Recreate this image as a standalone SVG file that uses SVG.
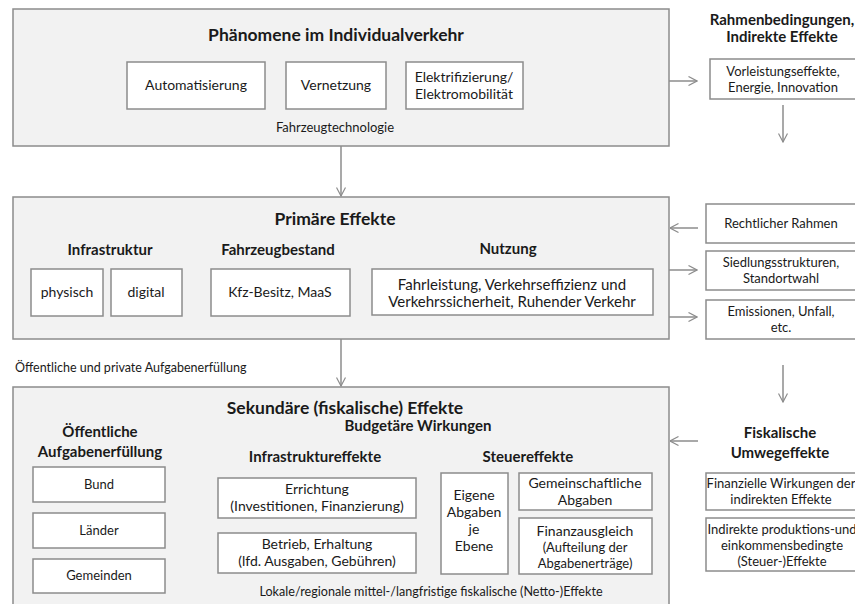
<svg xmlns="http://www.w3.org/2000/svg" width="855" height="604" viewBox="0 0 855 604">
<defs>
<marker id="ah" viewBox="0 0 10 10" refX="9.5" refY="5" markerWidth="10" markerHeight="10" markerUnits="userSpaceOnUse" orient="auto">
<path d="M1,0.5 L9.5,5 L1,9.5" fill="none" stroke="#8c8c8c" stroke-width="1.2"/>
</marker>
</defs>
<style>
text{font-family:Lato,"Open Sans","Liberation Sans",sans-serif;fill:#1a1a1a;text-anchor:middle}
.big{fill:#f2f2f2;stroke:#8c8c8c;stroke-width:1.5}
.box{fill:#fff;stroke:#8c8c8c;stroke-width:1.5}
.t{font-size:14px}
.n{font-size:15px}
.s{font-size:13px}
.h1{font-size:17.5px;font-weight:bold}
.h2{font-size:15px;font-weight:bold}
.c line{stroke:#8c8c8c;stroke-width:1.5;marker-end:url(#ah)}
</style>
<rect width="855" height="604" fill="#fff"/>

<g id="phaenomene">
<rect class="big" x="13" y="9" width="656" height="137"/>
<text class="h1" x="336" y="41">Phänomene im Individualverkehr</text>
<text class="s" x="335" y="132">Fahrzeugtechnologie</text>
</g>
<g id="automatisierung"><rect class="box" x="127" y="62" width="138" height="47"/><text class="t" x="196" y="90">Automatisierung</text></g>
<g id="vernetzung"><rect class="box" x="286" y="62" width="100" height="47"/><text class="t" x="336" y="90">Vernetzung</text></g>
<g id="elektrifizierung"><rect class="box" x="406" y="62" width="117" height="47"/><text class="t" x="464" y="82">Elektrifizierung/</text><text class="t" x="464" y="99">Elektromobilität</text></g>

<g id="rahmen">
<text class="h2" x="782" y="25">Rahmenbedingungen,</text>
<text class="h2" x="782" y="42">Indirekte Effekte</text>
</g>
<g id="vorleistung"><rect class="box" x="710" y="59" width="147" height="40"/><text class="s" x="783" y="76">Vorleistungseffekte,</text><text class="s" x="783" y="92">Energie, Innovation</text></g>

<g id="primaer">
<rect class="big" x="13" y="197" width="656" height="142"/>
<text class="h1" x="335" y="225">Primäre Effekte</text>
<text class="h2" x="110" y="255">Infrastruktur</text>
<text class="h2" x="278" y="255">Fahrzeugbestand</text>
<text class="h2" x="508" y="254">Nutzung</text>
</g>
<g id="physisch"><rect class="box" x="31" y="269" width="72" height="47"/><text class="t" x="67" y="297">physisch</text></g>
<g id="digital"><rect class="box" x="111" y="269" width="71" height="47"/><text class="t" x="146" y="297">digital</text></g>
<g id="kfz"><rect class="box" x="211" y="269" width="139" height="47"/><text class="t" x="280" y="297">Kfz-Besitz, MaaS</text></g>
<g id="nutzung"><rect class="box" x="372" y="269" width="281" height="46"/><text class="n" x="512" y="290">Fahrleistung, Verkehrseffizienz und</text><text class="n" x="512" y="307">Verkehrssicherheit, Ruhender Verkehr</text></g>

<g id="rechtlich"><rect class="box" x="706" y="204" width="151" height="39"/><text class="s" x="781" y="228">Rechtlicher Rahmen</text></g>
<g id="siedlung"><rect class="box" x="706" y="251" width="151" height="39"/><text class="s" x="781" y="267">Siedlungsstrukturen,</text><text class="s" x="781" y="283">Standortwahl</text></g>
<g id="emissionen"><rect class="box" x="706" y="300" width="151" height="39"/><text class="s" x="781" y="316">Emissionen, Unfall,</text><text class="s" x="781" y="332">etc.</text></g>

<g id="aufgaben-label"><text x="15" y="372" style="text-anchor:start;font-size:12.5px">Öffentliche und private Aufgabenerfüllung</text></g>

<g id="sekundaer">
<rect class="big" x="13" y="387" width="656" height="222"/>
<text class="h1" x="345" y="414">Sekundäre (fiskalische) Effekte</text>
<text class="h2" x="418" y="431">Budgetäre Wirkungen</text>
<text class="h2" x="100" y="437">Öffentliche</text>
<text class="h2" x="100" y="457">Aufgabenerfüllung</text>
<text class="h2" x="315" y="462">Infrastruktureffekte</text>
<text class="h2" x="528" y="462">Steuereffekte</text>
<text x="431" y="596" style="font-size:12.6px">Lokale/regionale mittel-/langfristige fiskalische (Netto-)Effekte</text>
</g>
<g id="bund"><rect class="box" x="33" y="467" width="132" height="35"/><text class="s" x="99" y="489">Bund</text></g>
<g id="laender"><rect class="box" x="33" y="513" width="132" height="35"/><text class="s" x="99" y="535">Länder</text></g>
<g id="gemeinden"><rect class="box" x="33" y="559" width="132" height="34"/><text class="s" x="99" y="580">Gemeinden</text></g>
<g id="errichtung"><rect class="box" x="218" y="478" width="198" height="40"/><text class="t" x="317" y="494">Errichtung</text><text class="t" x="317" y="511">(Investitionen, Finanzierung)</text></g>
<g id="betrieb"><rect class="box" x="218" y="533" width="198" height="40"/><text class="t" x="317" y="549">Betrieb, Erhaltung</text><text class="t" x="317" y="566">(lfd. Ausgaben, Gebühren)</text></g>
<g id="eigene"><rect class="box" x="441" y="473" width="67" height="101"/><text class="t" x="474" y="500">Eigene</text><text class="t" x="474" y="517">Abgaben</text><text class="t" x="474" y="534">je</text><text class="t" x="474" y="551">Ebene</text></g>
<g id="gemeinschaftlich"><rect class="box" x="519" y="473" width="133" height="37"/><text class="t" x="585" y="488">Gemeinschaftliche</text><text class="t" x="585" y="505">Abgaben</text></g>
<g id="finanzausgleich"><rect class="box" x="519" y="518" width="133" height="56"/><text class="t" x="585" y="536">Finanzausgleich</text><text class="s" x="585" y="552">(Aufteilung der</text><text class="s" x="585" y="568">Abgabenerträge)</text></g>

<g id="fiskalisch">
<text class="h2" x="780" y="438">Fiskalische</text>
<text class="h2" x="780" y="458">Umwegeffekte</text>
</g>
<g id="finanzielle"><rect class="box" x="706" y="473" width="151" height="37"/><text class="s" x="781" y="488">Finanzielle Wirkungen der</text><text class="s" x="781" y="504">indirekten Effekte</text></g>
<g id="indirekte"><rect class="box" x="706" y="518" width="151" height="53"/><text class="s" x="782" y="534">Indirekte produktions-und</text><text class="s" x="782" y="550">einkommensbedingte</text><text class="s" x="782" y="566">(Steuer-)Effekte</text></g>

<g id="connectors" class="c">
<line x1="341" y1="146" x2="341" y2="196"/>
<line x1="669" y1="81" x2="697" y2="81"/>
<line x1="783" y1="105" x2="783" y2="142"/>
<line x1="698" y1="228" x2="670" y2="228"/>
<line x1="669" y1="270" x2="697" y2="270"/>
<line x1="669" y1="317" x2="697" y2="317"/>
<line x1="341" y1="339" x2="341" y2="386"/>
<line x1="783" y1="365" x2="783" y2="402"/>
<line x1="698" y1="441" x2="670" y2="441"/>
</g>
</svg>
